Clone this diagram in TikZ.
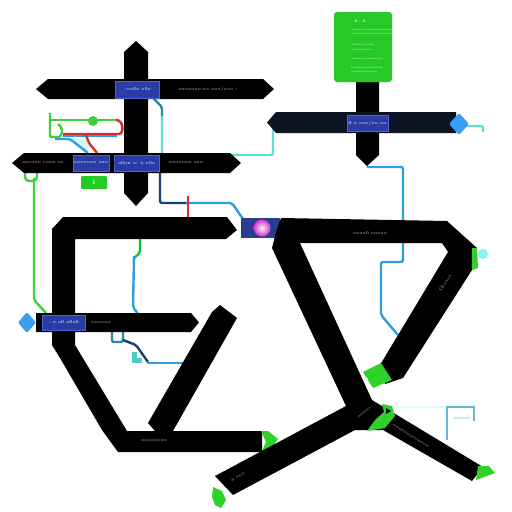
\documentclass[tikz,border=0pt]{standalone}
\definecolor{navy}{HTML}{0B1322}
\definecolor{boxblue}{HTML}{2B3CA6}
\definecolor{boxedge}{HTML}{4C63D6}
\definecolor{diablue}{HTML}{3A9EF2}
\definecolor{cardgreen}{HTML}{27C927}
\definecolor{tipgreen}{HTML}{2FD12A}
\definecolor{linecyan}{HTML}{62DCD8}
\definecolor{lineblue}{HTML}{2E9EE0}
\definecolor{linenavy}{HTML}{1B3F6E}
\definecolor{lineteal}{HTML}{2C8A9A}
\definecolor{linegreen}{HTML}{3AD13A}
\definecolor{linered}{HTML}{E02828}
\definecolor{labelgray}{HTML}{C8C8C8}
\definecolor{palecyan}{HTML}{BDF2EE}
\definecolor{glowbox}{HTML}{2A3C8C}
\tikzset{
  band/.style={fill=black},
  bluebox/.style={fill=boxblue, draw=boxedge, line width=0.6pt},
  wire/.style={line width=2.4pt, rounded corners=2pt},
  barlabel/.style={text=labelgray, font=\fontsize{4.5}{5}\selectfont, inner sep=0pt},
  boxlabel/.style={text=white, font=\fontsize{4.5}{5}\selectfont, inner sep=0pt},
  cardlabel/.style={text=white, font=\fontsize{2.6}{3}\selectfont, inner sep=0pt, anchor=west},
  tipfill/.style={fill=tipgreen},
}
\begin{document}
\begin{tikzpicture}[x=1pt,y=-1pt]
\fill[white] (0,0) rectangle (512,512);
\useasboundingbox (0,0) rectangle (512,512);

% ---------- wires (under the bands)
\fill[palecyan!60!white] (70,139) -- (86,136) -- (91,148) -- (86,151) -- cycle;
\draw[wire, linegreen] (50,113) -- (50,137) -- (58,137);
\draw[wire, linegreen] (50,120) -- (118,120);
\draw[wire, linegreen] (58,124) -- (62,128) -- (62,134) -- (58,138);
\fill[linegreen] (93,121) circle (5);
\draw[wire, lineblue] (63,136) -- (117,136);
\draw[wire, linered] (63,134) -- (117,134) .. controls (124,134) and (124,120) .. (116,120);
\draw[wire, lineblue] (55,139) -- (70,139) -- (88,153);
\draw[wire, linered] (86,135) -- (89,143) -- (97,153);

\draw[wire, linegreen, rounded corners=4pt] (25,172) -- (25,181) -- (37,181) -- (37,172);
\draw[wire, linegreen] (34,178) -- (34,300) -- (46,313);

\draw[wire, lineteal] (152,97) -- (162,107) -- (162,118);
\draw[wire, linecyan] (162,116) -- (162,155) -- (273,155) -- (273,128);

\draw[wire, linenavy] (160,172) -- (160,203) -- (188,203);
\draw[wire, lineblue] (186,203) -- (232,203) -- (243,219);
\draw[wire, linered] (188,196) -- (188,218);

\draw[wire, green!60!teal] (140,238) -- (140,253) -- (134,258);
\draw[wire, lineblue] (134,256) -- (133,307) -- (138,314);

\draw[wire, lineteal] (112,331) -- (112,342) -- (123,342) -- (123,331);
\draw[wire, linenavy] (123,340) -- (136,345) -- (148,362);
\draw[wire, lineblue] (147,363) -- (183,363);
\fill[linecyan!80!teal] (132,352) rectangle (137,363);
\fill[linecyan!80!teal] (137,358) rectangle (142,363);

\draw[wire, lineblue] (367,167) -- (403,167) -- (403,262) -- (381,262) -- (381,315) -- (398,335);
\draw[wire, linecyan] (467,126) -- (483,126) -- (483,132);
\fill[palecyan!70!cyan] (483,254) circle (5);

\draw[line width=1.5pt, palecyan!45!white] (388,407) -- (447,407);
\draw[line width=1.5pt, cyan!55!teal!70!white] (447,440) -- (447,407) -- (474,407) -- (474,421);
\draw[line width=2.5pt, palecyan] (453,418) -- (470,418);

% ---------- top-left cross
\fill[band] (124,52) -- (136,41) -- (148,52) -- (148,193) -- (136,206) -- (124,193) -- cycle;
\fill[band] (48,79) -- (263,79) -- (274,89) -- (263,99) -- (48,99) -- (36,89) -- cycle;
\fill[band] (24,153) -- (230,153) -- (241,163) -- (230,173) -- (24,173) -- (12,163) -- cycle;
\draw[bluebox] (115,81) rectangle (159,98);
\draw[bluebox] (73,155) rectangle (109,171);
\draw[bluebox] (114,155) rectangle (159,171);
\node[boxlabel] (b1box) at (137,89.5) {.:oo0o o0o};
\node[barlabel] (b1txt) at (208,89) {ooooooo.oo ooo/ooo -};
\node[boxlabel] (b2box1) at (91,163) {ooooooo ooo};
\node[boxlabel] (b2box2) at (136.5,163) {o0ou o: o o0o};
\node[barlabel] (b2left) at (43,163) {oocooo cooo oo};
\node[barlabel] (b2right) at (186,163) {ooooooo ooo};
\node[fill=cardgreen, rounded corners=1pt, minimum width=26pt, minimum height=13pt, inner sep=0pt,
      text=white, font=\bfseries\fontsize{7}{7}\selectfont] (info) at (94,182.5) {i};

% ---------- top-right
\fill[band] (356,80) -- (379,80) -- (379,155) -- (367,166) -- (356,155) -- cycle;
\fill[navy] (276,112) -- (456,112) -- (456,133) -- (276,133) -- (267,122.5) -- cycle;
\fill[diablue, rounded corners=1.5pt] (459,113) -- (469,124) -- (459,135) -- (449,124) -- cycle;
\draw[bluebox] (347,115) rectangle (388,131);
\node[boxlabel] (rbox) at (367.5,123) {0 o ooo/oo oo};
\fill[cardgreen, rounded corners=3pt] (334,12) rectangle (392,82);
\node[text=white, font=\bfseries\fontsize{3.6}{4}\selectfont, inner sep=0pt] (cardtitle) at (360,22) {0 ; 0};
\node[cardlabel] (c1) at (351,30) {oooooooooooooooooooooooooo};
\node[cardlabel] (c2) at (351,33.5) {ooooooooooooooooooooooooooo};
\node[cardlabel] (c3) at (351,45) {oooooooooooo};
\node[cardlabel] (c4) at (351,50) {ooooooooooo};
\node[cardlabel] (c5) at (351,59) {ooooooooooooooooo};
\node[cardlabel] (c6) at (351,68) {ooooooooooooooooo};
\node[cardlabel] (c7) at (351,71.5) {oooooooooooooo};

% ---------- left C shape
\fill[band] (63,217) -- (227,217) -- (237,230) -- (226,239) -- (75,239) -- (75,345) -- (127,431)
  -- (262,431) -- (262,452) -- (118,452) -- (102,430) -- (60,358) -- (52,345) -- (52,229) -- cycle;
\fill[band] (212,312) -- (220,305) -- (237,318) -- (173,431) -- (155,431) -- (148,423) -- cycle;
\fill[tipfill] (261,431) -- (268,431) -- (278,439) -- (268,453) -- (261,453) -- (266,442) -- cycle;
\node[barlabel] (bottomtxt) at (154,441) {oooooooo};

\fill[band] (36,313) -- (191,313) -- (199,322.5) -- (191,332) -- (36,332) -- cycle;
\fill[diablue, rounded corners=1.5pt] (27,312) -- (36,322.5) -- (27,333) -- (18,322.5) -- cycle;
\draw[bluebox] (42,315) rectangle (85,330);
\node[boxlabel] (b3box) at (63.5,322.5) {. o o0 o0o0};
\node[barlabel] (b3txt) at (101,323) {oooooo};

% ---------- glowing box
\fill[glowbox] (241,218) rectangle (280,238);
\shade[inner color=white!70!pink, outer color=magenta!55!violet!80!white] (262,228) circle (8.5);

% ---------- triangle and junction
\fill[band] (281,218) -- (447,221) -- (477,248) -- (472,270) -- (403,378) -- (385,384) -- (380,365)
  -- (448,252) -- (442,243) -- (299,243) -- cycle;
\fill[band] (281,218) -- (300,243) -- (372,400) -- (392,412) -- (483,467) -- (472,481) -- (383,430)
  -- (355,430) -- (233,495) -- (215,476) -- (346,406) -- (272,248) -- (276,232) -- cycle;
\fill[tipfill] (472,248) -- (477,248) -- (478,268) -- (472,270) -- cycle;
\fill[tipfill] (363,372) -- (381,363) -- (392,380) -- (373,388) -- cycle;
\fill[tipfill] (382,404) -- (392,406) -- (395,416) -- (385,428) -- (367,431) -- (375,420) -- (384,412) -- cycle;
\fill[black] (386,408) -- (391,411) -- (386,414) -- cycle;
\fill[tipfill] (478,466) -- (489,466) -- (495,473) -- (476,480) -- cycle;
\fill[tipfill] (213,487) -- (222,491) -- (226,500) -- (221,508) -- (215,505) -- (212,497) -- cycle;
\fill[white] (367,379) circle (1.2);

\node[barlabel] (tritop) at (370,233) {oooo0 ooooo};
\node[barlabel, rotate=57] (triarm) at (445,283) {Oloooo};
\node[barlabel, rotate=27] (leftleg) at (238,477) {a ooo};
\node[barlabel, rotate=-32] (rightleg) at (411,436) {ooooooooooooo};
\node[barlabel, rotate=40] (junction) at (364,413) {ooooo};
\end{tikzpicture}
\end{document}
